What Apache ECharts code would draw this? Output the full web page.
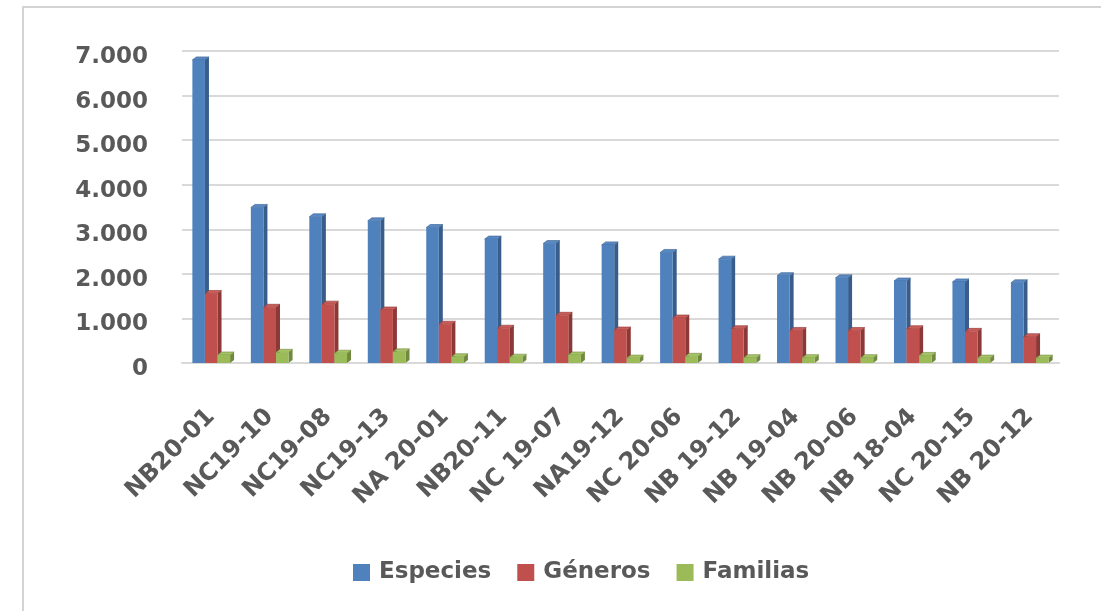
<!DOCTYPE html>
<html lang="es">
<head>
  <meta charset="UTF-8" />
  <title>Especies, géneros y familias</title>
  <style>
    * { padding: 0; margin: 0; }
    html, body { width: 100%; height: 100%; background: #fff; }
    #chart { width: 1101px; height: 611px; }
  </style>
</head>
<body>
  <div id="chart"></div>
  <script src="https://cdn.jsdelivr.net/npm/echarts@6/dist/echarts.min.js"></script>
  <script>
    var categories = ['NB20-01', 'NC19-10', 'NC19-08', 'NC19-13', 'NA 20-01', 'NB20-11', 'NC 19-07', 'NA19-12',
      'NC 20-06', 'NB 19-12', 'NB 19-04', 'NB 20-06', 'NB 18-04', 'NC 20-15', 'NB 20-12']
    var especies = [6800, 3490, 3280, 3190, 3040, 2780, 2680, 2650, 2480, 2330, 1960, 1910, 1840, 1820, 1800]
    var generos = [1560, 1250, 1320, 1190, 870, 780, 1070, 740, 1010, 770, 730, 730, 770, 710, 590]
    var familias = [180, 240, 220, 250, 140, 130, 180, 110, 150, 120, 120, 120, 170, 110, 110]
    var yTicks = [0, 1000, 2000, 3000, 4000, 5000, 6000, 7000]

    var chart = echarts.init(document.getElementById('chart'))
    var txt = '#595959'
    var font = 'DejaVu Sans'

    // fake 3D column: front face, darker side, top face
    function bar3d(idx, front, side, topc) {
      return function (params, api) {
        var cat = api.value(0)
        var val = api.value(1)
        var base = api.coord([cat, 0])
        var top = api.coord([cat, val])
        var band = api.size([1, 0])[0]
        var bw = band * 0.215
        var x = base[0] - bw * 1.5 + idx * bw
        var dx = 4, dy = 3
        var y0 = base[1], y1 = top[1]
        return {
          type: 'group',
          children: [
            {
              type: 'polygon',
              shape: { points: [[x + bw, y1], [x + bw + dx, y1 - dy], [x + bw + dx, y0 - dy], [x + bw, y0]] },
              style: { fill: side }
            },
            {
              type: 'polygon',
              shape: { points: [[x, y1], [x + dx, y1 - dy], [x + bw + dx, y1 - dy], [x + bw, y1]] },
              style: { fill: topc, stroke: side, lineWidth: 0.6 }
            },
            {
              type: 'rect',
              shape: { x: x, y: y1, width: bw, height: y0 - y1 },
              style: { fill: front }
            }
          ]
        }
      }
    }

    function toData(arr) {
      return arr.map(function (v, i) { return [i, v] })
    }

    var option = {
      animation: false,
      graphic: [{
        type: 'rect',
        shape: { x: 23, y: 7, width: 1200, height: 700 },
        style: { fill: 'none', stroke: '#d4d4d4', lineWidth: 2 },
        silent: true
      }],
      grid: { left: 182, right: 42, top: 51, bottom: 248 },
      legend: {
        bottom: 22,
        left: 348,
        icon: 'rect',
        itemWidth: 17,
        itemHeight: 17,
        itemGap: 26,
        textStyle: { color: txt, fontSize: 23, fontWeight: 'bold', fontFamily: font, padding: [0, 0, 0, 4] },
        data: ['Especies', 'Géneros', 'Familias']
      },
      xAxis: {
        type: 'category',
        data: categories,
        axisLine: { show: true, lineStyle: { color: '#d9d9d9', width: 2 } },
        axisTick: { show: false },
        axisLabel: {
          rotate: 45,
          margin: 50,
          interval: 0,
          color: txt,
          fontSize: 24,
          fontWeight: 'bold',
          fontFamily: font
        }
      },
      yAxis: {
        type: 'value',
        min: yTicks[0],
        max: yTicks[yTicks.length - 1],
        interval: 1000,
        axisLine: { show: false },
        axisTick: { show: false },
        splitLine: { lineStyle: { color: '#d9d9d9', width: 2 } },
        axisLabel: {
          margin: 34,
          color: txt,
          fontSize: 23,
          fontWeight: 'bold',
          fontFamily: font,
          verticalAlign: 'top',
          lineHeight: 12,
          formatter: function (v) { return v === 0 ? '0' : (v / 1000) + '.000' }
        }
      },
      series: [
        {
          name: 'Especies', type: 'custom',
          itemStyle: { color: '#4f81bd' },
          encode: { x: 0, y: 1 },
          renderItem: bar3d(0, '#4f81bd', '#385d8a', '#5a8ac6'),
          data: toData(especies)
        },
        {
          name: 'Géneros', type: 'custom',
          itemStyle: { color: '#c0504d' },
          encode: { x: 0, y: 1 },
          renderItem: bar3d(1, '#c0504d', '#8c3836', '#c95d5a'),
          data: toData(generos)
        },
        {
          name: 'Familias', type: 'custom',
          itemStyle: { color: '#9bbb59' },
          encode: { x: 0, y: 1 },
          renderItem: bar3d(2, '#9bbb59', '#71893f', '#a6c466'),
          data: toData(familias)
        }
      ]
    }
    chart.setOption(option)
    window.addEventListener('resize', function () {
      chart.resize()
    })
  </script>
</body>
</html>
